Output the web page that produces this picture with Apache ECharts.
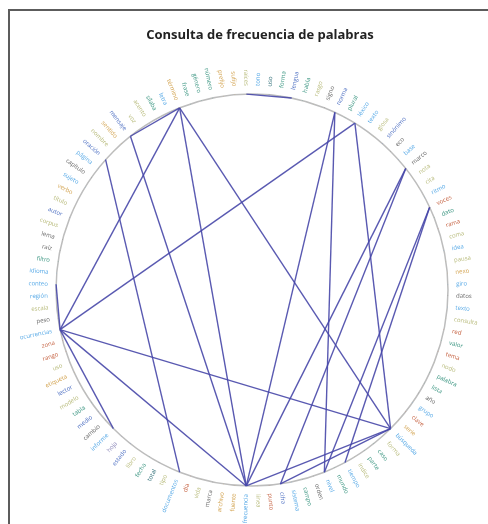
<!DOCTYPE html>
<html>
<head>
<meta charset="utf-8">
<script src="https://cdn.jsdelivr.net/npm/echarts@6/dist/echarts.min.js"></script>
<style>
html,body{margin:0;padding:0;width:488px;height:524px;overflow:hidden;background:#fff;}
#wrap{position:absolute;left:8px;top:9px;width:500px;height:530px;border-left:2px solid #5c5c5c;border-top:2px solid #5c5c5c;}
#chart{width:500px;height:530px;}
</style>
</head>
<body>
<div id="wrap"><div id="chart"></div></div>
<script>
// Words placed clockwise starting from the right side of the ring
const words = [
 'datos','texto','consulta','red','valor','tema','nodo','palabra','lista','año',
 'grupo','clave','serie','búsqueda','forma','caso','parte','índice','tiempo','mundo',
 'nivel','orden','campo','sistema','cifra','punto','línea','frecuencia','fuente','archivo',
 'marca','vida','día','documentos','tipo','total','fecha','libro','estado','hoja',
 'informe','cambio','medio','tabla','modelo','lector','etiqueta','uso','rango','zona',
 'ocurrencias','peso','escala','región','conteo','idioma','filtro','raíz','lema','corpus',
 'autor','título','verbo','sujeto','capítulo','página','oración','nombre','sentido','mensaje',
 'voz','acento','sílaba','letra','término','frase','género','número','prefijo','sufijo',
 'raíces','tono','uso','forma','lengua','habla','rasgo','signo','norma','plural',
 'léxico','texto','glosa','sinónimo','eco','base','marco','nota','cita','ritmo',
 'voces','dato','rama','coma','idea','pausa','nexo','giro'
];
const categoryIndex = [
 4,0,2,6,1,6,2,1,1,4,
 0,6,3,0,2,1,1,2,0,1,
 0,4,1,0,5,6,2,0,3,3,
 4,2,6,0,2,7,1,2,5,8,
 0,4,5,1,2,5,3,2,6,6,
 0,4,2,0,0,0,1,4,4,2,
 5,2,3,0,4,0,5,2,3,5,
 2,2,1,0,3,1,1,1,3,3,
 2,0,7,1,5,1,2,4,5,1,
 0,0,2,5,4,0,4,2,2,0,
 6,1,6,2,0,2,3,0
];
const categoryNames = ['azul claro','verde','oliva','ocre','gris','azul','rojizo','petróleo','lila'];
const categoryColors = ['#55a8e6','#3c9682','#b7ba7a','#d2a24e','#666666','#4d6fc2','#c45f3e','#2f6e78','#8a86b8'];
// Links between words (indices into words)
const linkSources = [74,74,74,74,69,66,54,50,50,50,50,88,88,90,96,96,100,100,27,24,80];
const linkTargets = [69,50,27,13,27,33,50,40,27,13,90,20,27,13,27,24,20,18,13,13,84];

const cx = 242, cy = 279, R = 196;
const nodes = words.map((w, i) => ({ name: i + ':' + w, category: categoryIndex[i] }));
const links = linkSources.map((s, i) => ({ source: s, target: linkTargets[i] }));

const chart = echarts.init(document.getElementById('chart'));
chart.setOption({
  animation: false,
  title: {
    text: 'Consulta de frecuencia de palabras',
    left: 'center', top: 13,
    textStyle: { fontSize: 13, fontWeight: 'bold', color: '#222', fontFamily: 'Open Sans' }
  },
  polar: { center: [cx, cy], radius: R },
  angleAxis: {
    type: 'value', min: 0, max: 360, silent: true,
    axisLine: { show: true, lineStyle: { color: '#bdbdbd', width: 1.5 } },
    axisTick: { show: false }, axisLabel: { show: false }, splitLine: { show: false }
  },
  radiusAxis: { show: false, min: 0, max: 1 },
  series: [{
    type: 'graph',
    layout: 'circular',
    circular: { rotateLabel: true },
    left: cx - R, top: cy - R, width: 2 * R, height: 2 * R,
    symbolSize: 0.5,
    categories: categoryNames.map((n, i) => ({ name: n, itemStyle: { color: categoryColors[i] } })),
    data: nodes,
    links: links,
    label: {
      show: true, color: 'inherit', fontSize: 6, distance: 8,
      fontFamily: 'Open Sans',
      formatter: p => p.name.split(':')[1]
    },
    lineStyle: { color: '#4747a8', width: 1.4, opacity: 0.9, curveness: 0 },
    emphasis: { disabled: true }
  }]
});
</script>
</body>
</html>
